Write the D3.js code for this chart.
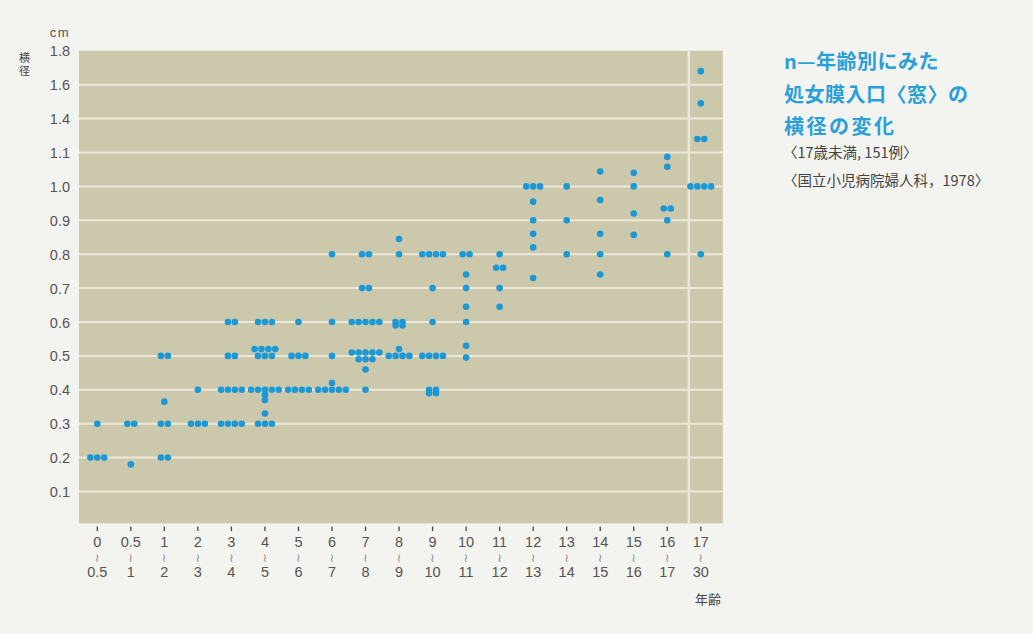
<!DOCTYPE html>
<html><head><meta charset="utf-8">
<script src="https://cdn.jsdelivr.net/npm/d3@7"></script>
<style>
html,body{margin:0;padding:0;background:#f3f3ef;}
svg{display:block;}
</style></head>
<body>
<svg id="chart" width="1033" height="634"></svg>
<script>
// ---- data ----
const categories = ["0~0.5","0.5~1","1~2","2~3","3~4","4~5","5~6","6~7","7~8","8~9","9~10","10~11","11~12","12~13","13~14","14~15","15~16","16~17","17~30"];
const ageFrom = ["0","0.5","1","2","3","4","5","6","7","8","9","10","11","12","13","14","15","16","17"];
const ageTo   = ["0.5","1","2","3","4","5","6","7","8","9","10","11","12","13","14","15","16","17","30"];
const yTickValues = [0.1,0.2,0.3,0.4,0.5,0.6,0.7,0.8,0.9,1.0,1.1,1.4,1.6,1.8];
const yTickLabels = ["0.1","0.2","0.3","0.4","0.5","0.6","0.7","0.8","0.9","1.0","1.1","1.4","1.6","1.8"];
// transverse diameter (cm) of each case, per age group
const diameters = [
  [0.3,0.2,0.2,0.2],
  [0.3,0.3,0.18],
  [0.5,0.5,0.365,0.3,0.3,0.2,0.2],
  [0.4,0.3,0.3,0.3],
  [0.6,0.6,0.5,0.5,0.4,0.4,0.4,0.4,0.3,0.3,0.3,0.3],
  [0.6,0.6,0.6,0.52,0.52,0.52,0.52,0.5,0.5,0.5,0.4,0.4,0.4,0.4,0.4,0.385,0.37,0.33,0.3,0.3,0.3],
  [0.6,0.5,0.5,0.5,0.4,0.4,0.4,0.4],
  [0.8,0.6,0.5,0.42,0.4,0.4,0.4,0.4,0.4],
  [0.8,0.8,0.7,0.7,0.6,0.6,0.6,0.6,0.6,0.51,0.51,0.51,0.51,0.51,0.49,0.49,0.49,0.46,0.4],
  [0.845,0.8,0.6,0.6,0.59,0.59,0.52,0.5,0.5,0.5,0.5],
  [0.8,0.8,0.8,0.8,0.7,0.6,0.5,0.5,0.5,0.5,0.4,0.4,0.39,0.39],
  [0.8,0.8,0.74,0.7,0.645,0.6,0.53,0.495],
  [0.8,0.76,0.76,0.7,0.645],
  [1.0,1.0,1.0,0.955,0.9,0.86,0.82,0.73],
  [1.0,0.9,0.8],
  [1.044,0.96,0.86,0.8,0.74],
  [1.04,1.0,0.92,0.857],
  [1.087,1.058,0.935,0.935,0.9,0.8],
  [1.68,1.49,1.22,1.22,1.0,1.0,1.0,1.0,0.8]
];
const titleLines = ["n—年齢別にみた","処女膜入口〈窓〉の","横径の変化"];
const noteLines = ["〈17歳未満, 151例〉","〈国立小児病院婦人科，1978〉"];

// ---- drawing ----
const svg = d3.select("#chart");
const blue = "#1b98d5";
const gray = "#555";

const x = d3.scalePoint().domain(categories).range([97.3, 700.8]);
const y0 = 525.4, step = 33.9;
const y = d3.scaleLinear()
  .domain([0, ...yTickValues])
  .range([0, ...yTickValues].map((v,i)=> y0 - i*step));

const plotLeft = 79, plotRight = x(categories[categories.length-1]) + 22;
const plotTop = y(1.8), plotBottom = y(0) - 2;

svg.append("rect")
  .attr("x", plotLeft).attr("y", plotTop)
  .attr("width", plotRight - plotLeft).attr("height", plotBottom - plotTop)
  .attr("fill", "#ccc8ac");

// grid lines
svg.append("g").selectAll("line")
  .data(yTickValues.slice(0, -1))
  .join("line")
  .attr("x1", plotLeft).attr("x2", plotRight)
  .attr("y1", d=>y(d)).attr("y2", d=>y(d))
  .attr("stroke", "#ebe8da").attr("stroke-width", 2);

// separator before the last group
const sepX = x(categories[categories.length-1]) - 12;
svg.append("line")
  .attr("x1", sepX).attr("x2", sepX)
  .attr("y1", plotTop).attr("y2", plotBottom)
  .attr("stroke", "#ebe8da").attr("stroke-width", 2.5);

// y axis labels
const yAxis = d3.axisLeft(y).tickValues(yTickValues)
  .tickFormat((d,i)=>yTickLabels[i]).tickSize(0).tickPadding(0);
const yg = svg.append("g").attr("transform", "translate(70,0)").call(yAxis);
yg.select(".domain").remove();
yg.selectAll("text")
  .attr("font-family", "Liberation Sans, Arial, sans-serif")
  .attr("font-size", 14.5).attr("fill", gray).attr("dy", "0.35em");

svg.append("text").attr("x", 70).attr("y", 37).attr("text-anchor","end")
  .attr("font-family","Liberation Sans, Arial, sans-serif").attr("font-size",13)
  .attr("letter-spacing", 1.5).attr("fill", gray).text("cm");
svg.append("text").attr("x", 24.5).attr("y", 52)
  .attr("writing-mode","tb").attr("glyph-orientation-vertical","0")
  .attr("letter-spacing", 2)
  .attr("font-family","Noto Sans CJK JP").attr("font-size",11).attr("fill","#444").text("横径");

// x axis
const xg = svg.append("g");
xg.selectAll("line.tick").data(categories).join("line")
  .attr("class","tick")
  .attr("x1", d=>x(d)).attr("x2", d=>x(d))
  .attr("y1", 526.5).attr("y2", 531)
  .attr("stroke", "#444").attr("stroke-width", 1.3);
xg.selectAll("text.from").data(categories).join("text")
  .attr("class","from")
  .attr("x", d=>x(d)).attr("y", 547).attr("text-anchor","middle")
  .attr("font-family","Liberation Sans, Arial, sans-serif").attr("font-size",14.5).attr("fill",gray)
  .text((d,i)=>ageFrom[i]);
xg.selectAll("text.wave").data(categories).join("text")
  .attr("class","wave")
  .attr("x", d=>x(d)).attr("y", 562).attr("text-anchor","middle")
  .attr("font-family","DejaVu Sans").attr("font-size",12).attr("fill","#8a8a8a")
  .text("≀");
xg.selectAll("text.to").data(categories).join("text")
  .attr("class","to")
  .attr("x", d=>x(d)).attr("y", 577).attr("text-anchor","middle")
  .attr("font-family","Liberation Sans, Arial, sans-serif").attr("font-size",14.5).attr("fill",gray)
  .text((d,i)=>ageTo[i]);
svg.append("text").attr("x", 708).attr("y", 604).attr("text-anchor","middle")
  .attr("font-family","Noto Sans CJK JP").attr("font-size",13).attr("fill","#444").text("年齢");

// dots: identical values within a group sit side by side
const spacing = 6.9;
const points = [];
categories.forEach((cat, ci) => {
  const groups = d3.rollup(diameters[ci], v=>v.length, d=>d);
  for (const [val, n] of groups) {
    for (let k=0; k<n; k++) {
      points.push({cat, val, off: (k - (n-1)/2) * spacing});
    }
  }
});
svg.append("g").selectAll("circle").data(points).join("circle")
  .attr("cx", d=>x(d.cat) + d.off)
  .attr("cy", d=>y(d.val))
  .attr("r", 3.3)
  .attr("fill", blue);

// title & notes
const tg = svg.append("g");
titleLines.forEach((t,i)=>{
  tg.append("text").attr("x", 784).attr("y", 69 + i*32.5)
    .attr("font-family","Noto Sans CJK JP").attr("font-weight","bold")
    .attr("font-size",20).attr("fill","#2a9fd8").attr("letter-spacing", i===2?2.5:0.5).text(t);
});
noteLines.forEach((t,i)=>{
  tg.append("text").attr("x", 783).attr("y", 158 + i*28)
    .attr("font-family","Noto Sans CJK JP")
    .attr("font-size",14.5).attr("fill","#444").text(t);
});
</script>
</body></html>
